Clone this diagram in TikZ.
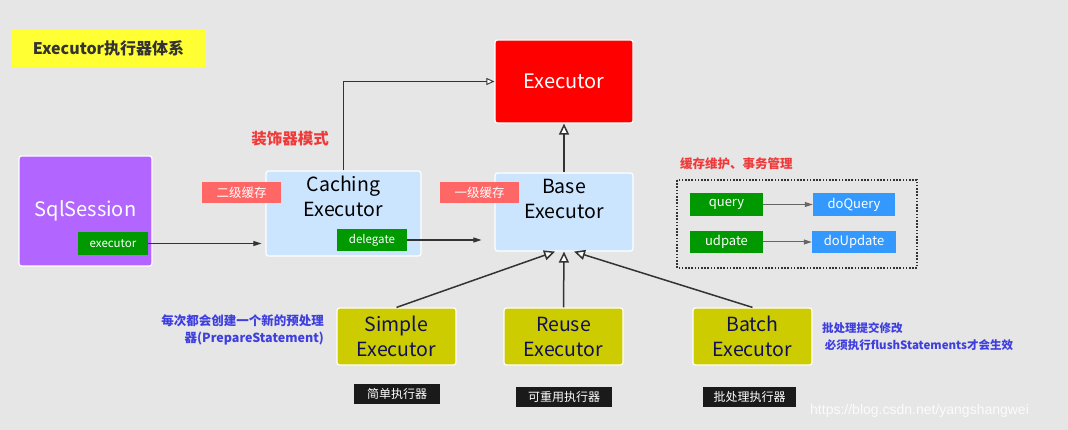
\documentclass[tikz,border=0pt]{standalone}
\usepackage{fontspec}
\setmainfont{Noto Sans CJK SC}
\newfontfamily\wmfont{Liberation Sans}
\usetikzlibrary{arrows.meta}
\definecolor{bg}{HTML}{E6E6E6}
\definecolor{ttlyellow}{HTML}{FFFF33}
\definecolor{exred}{HTML}{FF0000}
\definecolor{sqlpurple}{HTML}{B266FF}
\definecolor{grn}{HTML}{009900}
\definecolor{ltblue}{HTML}{CCE5FF}
\definecolor{pinklbl}{HTML}{FF6666}
\definecolor{olive}{HTML}{CCCC00}
\definecolor{navy}{HTML}{10105A}
\definecolor{bluetxt}{HTML}{3F3FDF}
\definecolor{redtxt}{HTML}{F03A3A}
\definecolor{doblue}{HTML}{3399FF}
\definecolor{darkln}{HTML}{333333}
\definecolor{blk}{HTML}{1A1A1A}
\tikzset{
  bigbox/.style={draw=white, line width=1.2pt, rounded corners=2.5pt, inner sep=0pt},
  tag/.style={inner sep=0pt, text=white, font=\fontsize{11.5}{13}\selectfont},
  cjktag/.style={inner sep=0pt, text=white, font=\fontsize{12.5}{14}\selectfont},
  bigtxt/.style={align=center, font=\fontsize{19.5}{25}\selectfont, inner sep=0pt},
  opentip/.tip={Triangle[fill=white, length=11pt, width=10pt]},
  inherit/.style={darkln, line width=1.5pt, -opentip},
  flow/.style={darkln, line width=1.1pt, -{Triangle[length=8pt, width=5pt]}},
  grayflow/.style={gray!80!black, line width=1pt, -{Triangle[length=8pt, width=5pt]}},
  note/.style={text=bluetxt, font=\bfseries\fontsize{12.5}{17}\selectfont, inner sep=0pt},
  blacklbl/.style={fill=blk, inner sep=0pt, text=white, font=\fontsize{12}{14}\selectfont, minimum height=20pt}
}
\begin{document}
\begin{tikzpicture}[x=1pt, y=-1pt]
\useasboundingbox[fill=bg] (0,0) rectangle (1068,430);

% title
\node[fill=ttlyellow, minimum width=195pt, minimum height=37pt, inner sep=0pt,
  text=darkln, font=\bfseries\fontsize{16}{18}\selectfont] (title) at (108.5,48.5) {Executor执行器体系};

% Executor
\node[bigbox, fill=exred, minimum width=138pt, minimum height=83pt, text=white,
  font=\fontsize{20}{24}\selectfont] (exec) at (564,81.5) {Executor};

% decorator label
\node[text=redtxt, font=\bfseries\fontsize{15.5}{18}\selectfont, inner sep=0pt] (deco) at (290,139) {装饰器模式};

% SqlSession
\node[bigbox, fill=sqlpurple, minimum width=133pt, minimum height=110pt] (sql) at (85.5,211) {};
\node[text=white, font=\fontsize{20}{24}\selectfont, inner sep=0pt] (sqlt) at (85.5,211) {SqlSession};
\node[tag, fill=grn, minimum width=70pt, minimum height=23pt] (sqlexec) at (113,243.5) {executor};

% Caching Executor
\node[bigbox, fill=ltblue, minimum width=155pt, minimum height=85pt] (cach) at (343.5,213.5) {};
\node[bigtxt, text=black] (cacht) at (343.5,196.5) {Caching\\Executor};
\node[tag, fill=grn, minimum width=70pt, minimum height=22pt] (cachdel) at (372,240) {delegate};
\node[cjktag, fill=pinklbl, minimum width=79pt, minimum height=21pt] (l2) at (241.5,192.5) {二级缓存};

% Base Executor
\node[bigbox, fill=ltblue, minimum width=138pt, minimum height=78pt] (base) at (564,212) {};
\node[bigtxt, text=black] (baset) at (564,198.5) {Base\\Executor};
\node[cjktag, fill=pinklbl, minimum width=79pt, minimum height=21pt] (l1) at (479.5,192.5) {一级缓存};

% subclasses
\node[bigbox, fill=olive, minimum width=119pt, minimum height=57pt, bigtxt, text=navy] (simple) at (396.5,336.5) {Simple\\Executor};
\node[bigbox, fill=olive, minimum width=119pt, minimum height=57pt, bigtxt, text=navy] (reuse) at (563.5,336.5) {Reuse\\Executor};
\node[bigbox, fill=olive, minimum width=119pt, minimum height=57pt, bigtxt, text=navy] (batch) at (752.5,336.5) {Batch\\Executor};

\node[blacklbl, minimum width=86pt] (simpleL) at (397,394) {简单执行器};
\node[blacklbl, minimum width=96pt] (reuseL) at (564,397) {可重用执行器};
\node[blacklbl, minimum width=93pt] (batchL) at (749.5,397) {批处理执行器};

% notes
\node[note, align=right, anchor=north east] (simpleN) at (324,315) {每次都会创建一个新的预处理\\器(PrepareStatement)};
\node[note, align=left, anchor=north west, font=\bfseries\fontsize{11.5}{17}\selectfont] (batchN) at (822,322) {批处理提交修改\\\ 必须执行flushStatements才会生效};

% cache/transaction group
\node[text=redtxt, font=\bfseries\fontsize{12.5}{14}\selectfont, inner sep=0pt, anchor=west] (grpT) at (680,164) {缓存维护、事务管理};
\draw[darkln, line width=1.6pt, dash pattern=on 1.6pt off 1.6pt] (677,180) rectangle (917,268);
\node[tag, fill=grn, minimum width=73pt, minimum height=23pt, font=\fontsize{13}{15}\selectfont] (query) at (726.5,204.5) {query};
\node[tag, fill=doblue, minimum width=82pt, minimum height=23pt, font=\fontsize{13}{15}\selectfont] (doq) at (854,204.5) {doQuery};
\node[tag, fill=grn, minimum width=73pt, minimum height=22pt, font=\fontsize{13}{15}\selectfont] (upd) at (726.5,242) {udpate};
\node[tag, fill=doblue, minimum width=84pt, minimum height=22pt, font=\fontsize{13}{15}\selectfont] (doup) at (854,242) {doUpdate};
\draw[grayflow] (query.east) -- (doq.west);
\draw[grayflow] (upd.east) -- (doup.west);

% connectors
\draw[flow] (sqlexec.east) -- ([xshift=-4pt]cach.west |- sqlexec.east);
\draw[flow] (cachdel.east) -- ([xshift=-13pt]base.west |- cachdel.east);
\draw[darkln, line width=0.9pt, -{Triangle[fill=white, length=8pt, width=7pt]}] (cach.north) |- (exec.west);
\draw[inherit] (base.north) -- (exec.south);
\draw[inherit] (simple.north) -- ([xshift=-9pt]base.south);
\draw[inherit] (reuse.north) -- ([xshift=0pt]base.south);
\draw[inherit] (batch.north) -- ([xshift=10pt]base.south);

% watermark
\node[text=white, font=\wmfont\fontsize{14}{16}\selectfont, inner sep=0pt, anchor=west, opacity=0.85] (wm) at (810,411) {https://blog.csdn.net/yangshangwei};
\end{tikzpicture}
\end{document}
